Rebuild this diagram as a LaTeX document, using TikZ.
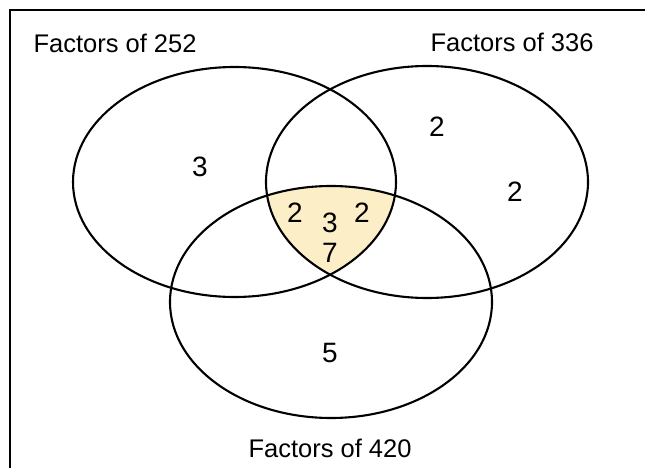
\documentclass[tikz,border=0pt]{standalone}
\usepackage{fontspec}
\setmainfont{Liberation Sans}
\definecolor{shadefill}{RGB}{252,238,198}
\begin{document}
\begin{tikzpicture}[x=1pt,y=-1pt,
  setline/.style={line width=2.1pt},
  framestyle/.style={line width=1.8pt},
  setlabel/.style={font=\fontsize{25.5}{28}\selectfont, anchor=base, inner sep=0pt},
  num/.style={font=\fontsize{28}{30}\selectfont, inner sep=0pt}]
\useasboundingbox (0,0) rectangle (645,468);
\coordinate (cL) at (234.5,182);
\coordinate (cR) at (427,182);
\coordinate (cB) at (331,302);
\begin{scope}
  \clip (cL) ellipse [x radius=161.5pt, y radius=115pt];
  \clip (cR) ellipse [x radius=161pt, y radius=116pt];
  \fill[shadefill] (cB) ellipse [x radius=161pt, y radius=116pt];
\end{scope}
\draw[setline] (cL) ellipse [x radius=161.5pt, y radius=115pt];
\draw[setline] (cR) ellipse [x radius=161pt, y radius=116pt];
\draw[setline] (cB) ellipse [x radius=161pt, y radius=116pt];
\coordinate (fb) at (10,468);
\coordinate (ftl) at (10,10);
\coordinate (fr) at (645,10);
\draw[framestyle] (fb) -- (ftl) -- (fr);
\node[setlabel] (l252) at (115,53) {Factors of 252};
\node[setlabel] (l336) at (512,52) {Factors of 336};
\node[setlabel] (l420) at (330,457) {Factors of 420};
\node[num] (nA) at (200,167) {3};
\node[num] (nB) at (437,127) {2};
\node[num] (nC) at (515,192) {2};
\node[num] (nD) at (295,213) {2};
\node[num] (nE) at (330,223) {3};
\node[num] (nF) at (362,213) {2};
\node[num] (nG) at (330,253) {7};
\node[num] (nH) at (330,353) {5};
\end{tikzpicture}
\end{document}
